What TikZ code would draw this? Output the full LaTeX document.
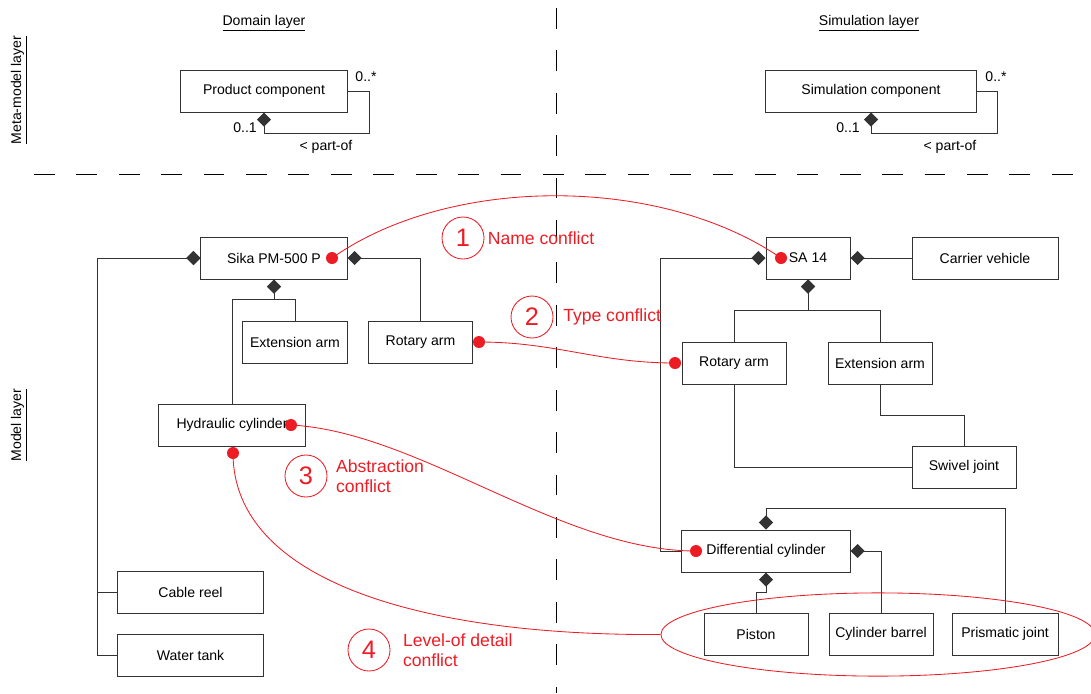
\documentclass[tikz,border=0pt]{standalone}
\usepackage{fontspec}
\setmainfont{Liberation Sans}
\usetikzlibrary{arrows.meta,positioning,shapes.geometric}
\definecolor{conflictred}{RGB}{237,28,36}
\tikzset{every path/.style={line width=0.6pt},
  box/.style={draw=black!80, line width=0.7pt, minimum height=1.05cm, minimum width=2.6cm, inner sep=1pt, font=\fontsize{10}{12}\selectfont},
  partof/.style={draw=black!80, -{Diamond[length=10pt,width=10pt]}},
  link/.style={draw=black!80},
  conflict/.style={draw=conflictred},
  cdot/.style={circle, fill=conflictred, inner sep=0pt, minimum size=0.3cm},
  cnum/.style={circle, draw=conflictred, text=conflictred, minimum size=1.05cm, inner sep=0pt, font=\fontsize{18}{20}\selectfont},
  clabel/.style={text=conflictred, align=left, inner sep=1pt, font=\fontsize{12.5}{14}\selectfont},
  layer/.style={font=\fontsize{10}{12}\selectfont, inner sep=1pt},
  sep/.style={draw=black, line width=0.7pt, dash pattern=on 0.52cm off 0.54cm}}

\begin{document}
\begin{tikzpicture}[x=0.025cm,y=-0.025cm]
  \useasboundingbox (0,0) rectangle (1091,693);
  \draw[sep] (34,174) -- (1091,174);
  \draw[sep] (556,8) -- (556,693);
  \node[layer] (domlay) at (264,23) {\underline{Domain layer}};
  \node[layer] (simlay) at (869,23) {\underline{Simulation layer}};
  \node[layer, rotate=90] (metalay) at (19,90) {\underline{Meta-model layer}};
  \node[layer, rotate=90] (modellay) at (19,425) {\underline{Model layer}};

  \begin{scope}
    \node[box, minimum width=4.175cm] (prod) at (264,91) {Product component};
    \draw[partof] (prod.east) -- ++(21,0) -- ++(0,42) -| (prod.south);
    \node[layer] (prodmany) at (366,77) {0..*};
    \node[layer] (prodone) at (245,128) {0..1};
    \node[layer] (prodpart) at (326,147) {< part-of};
  \end{scope}
  \begin{scope}
    \node[box, minimum width=5.25cm] (simc) at (871,91) {Simulation component};
    \draw[partof] (simc.east) -- ++(21,0) -- ++(0,42) -| (simc.south);
    \node[layer] (simmany) at (996,77) {0..*};
    \node[layer] (simone) at (848,128) {0..1};
    \node[layer] (simpart) at (950,147) {< part-of};
  \end{scope}

  \begin{scope}
    \node[box, minimum width=3.65cm] (sika) at (274,258) {Sika PM-500 P};
    \node[box] (extL) at (295,342) {Extension arm};
    \node[box] (rotL) at (420.5,342) {Rotary arm};
    \node[box, minimum width=3.65cm] (hyd) at (232,425) {Hydraulic cylinder};
    \node[box, minimum width=3.65cm] (cable) at (190.5,592.5) {Cable reel};
    \node[box, minimum width=3.65cm] (water) at (190.5,655) {Water tank};
    \draw[partof] (cable.west) -- ++(-20,0) |- (sika.west);
    \draw[partof] (water.west) -- ++(-20,0) |- (sika.west);
    \draw[partof] (extL.north) -- ++(0,-21) -| (sika.south);
    \draw[partof] (hyd.north) -- ++(0,-104) -| (sika.south);
    \draw[partof] (rotL.north) |- (sika.east);
  \end{scope}

  \begin{scope}
    \node[box, minimum width=2.1cm] (sa) at (808,258) {SA 14};
    \node[box, minimum width=3.65cm] (carrier) at (985,258) {Carrier vehicle};
    \node[box] (rotR) at (734,363) {Rotary arm};
    \node[box] (extR) at (880,363) {Extension arm};
    \node[box] (swivel) at (964,467) {Swivel joint};
    \node[box, minimum width=4.2cm] (diff) at (766,551) {Differential cylinder};
    \node[box] (piston) at (756,634) {Piston};
    \node[box] (barrel) at (881,634) {Cylinder barrel};
    \node[box, minimum width=2.65cm] (prism) at (1005,634) {Prismatic joint};
    \draw[partof] (carrier.west) -- (sa.east);
    \draw[partof] (rotR.north) -- ++(0,-31) -| (sa.south);
    \draw[partof] (extR.north) -- ++(0,-31) -| (sa.south);
    \draw[partof] (diff.west) -- ++(-21,0) |- (sa.west);
    \draw[link] (rotR.south) |- (swivel.west);
    \draw[link] (extR.south) -- ++(0,31) -| (swivel.north);
    \draw[partof] (piston.north) -- ++(0,-20) -| (diff.south);
    \draw[partof] (barrel.north) |- (diff.east);
    \draw[partof] (prism.north) -- ++(0,-104) -| (diff.north);
  \end{scope}

  \node[cdot] (c1a) at (332,258) {};
  \node[cdot] (c1b) at (781,258) {};
  \node[cdot] (c2a) at (479,342) {};
  \node[cdot] (c2b) at (675,363) {};
  \node[cdot] (c3a) at (291,425) {};
  \node[cdot] (c3b) at (696,551) {};
  \node[cdot] (c4a) at (233,453) {};
  \node[draw=conflictred, ellipse, minimum width=10.85cm, minimum height=2.08cm, inner sep=0pt] (lod) at (878,634.5) {};
  \draw[conflict] (c1a.center) .. controls (450,175) and (660,175) .. (c1b.center);
  \draw[conflict] (c2a.center) to[out=0,in=180] (c2b.center);
  \draw[conflict] (c3a.center) .. controls (420,432) and (560,551) .. (c3b.center);
  \draw[conflict] (c4a.center) .. controls (233,580) and (420,636) .. (lod.west);

  \node[cnum] (n1) at (463,238) {1};
  \node[clabel, right=0.04cm of n1] (l1) {Name conflict};
  \node[cnum] (n2) at (532,317) {2};
  \node[clabel, right=0.2cm of n2] (l2) {Type conflict};
  \node[cnum] (n3) at (306,476) {3};
  \node[clabel, right=0.17cm of n3] (l3) {Abstraction\\conflict};
  \node[cnum] (n4) at (369,650) {4};
  \node[clabel, right=0.27cm of n4] (l4) {Level-of detail\\conflict};
\end{tikzpicture}
\end{document}
